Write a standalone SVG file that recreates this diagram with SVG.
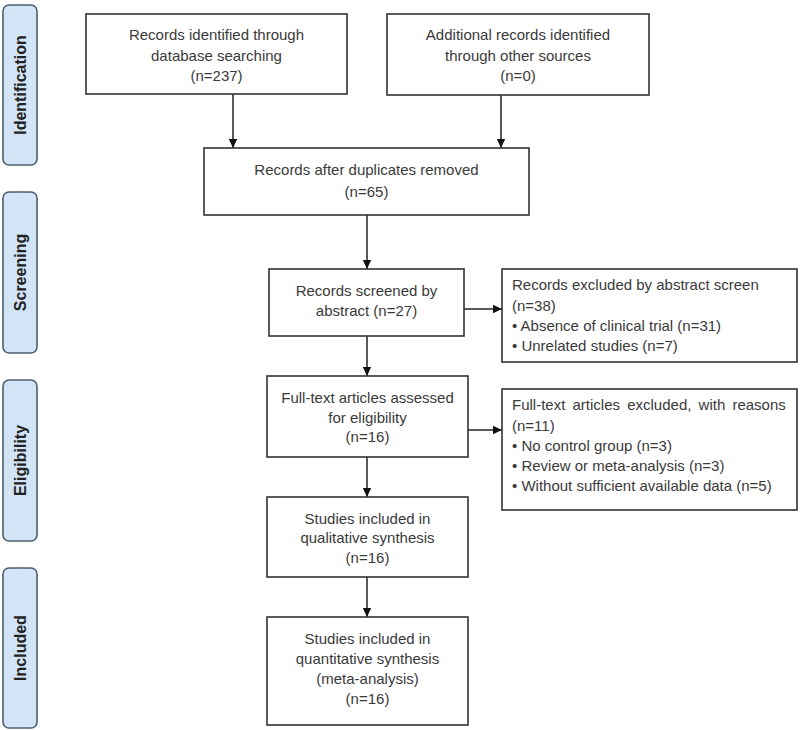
<svg xmlns="http://www.w3.org/2000/svg" width="800" height="730" viewBox="0 0 800 730">
<defs>
<style>
.box{fill:#fff;stroke:#333;stroke-width:1.6}
.side{fill:#d2e5f6;stroke:#4e5f6e;stroke-width:1.6}
.t{font-family:"Liberation Sans",Arial,sans-serif;font-size:15px;fill:#3a3a3a}
.c{text-anchor:middle}
.s{font-family:"Liberation Sans",Arial,sans-serif;font-size:16px;font-weight:bold;fill:#222;text-anchor:middle}
.ln{stroke:#222;stroke-width:1.5;fill:none;marker-end:url(#ah)}
</style>
<marker id="ah" markerUnits="userSpaceOnUse" markerWidth="10" markerHeight="10" refX="9" refY="5" orient="auto">
<path d="M0,0.8 L9,5 L0,9.2 Z" fill="#111"/>
</marker>
</defs>
<rect width="800" height="730" fill="#fff"/>

<g id="phase-identification"><rect class="side" x="3" y="5" width="34" height="160" rx="6"/><text class="s" transform="translate(26,85) rotate(-90)">Identification</text></g>
<g id="phase-screening"><rect class="side" x="3" y="192" width="34" height="161" rx="6"/><text class="s" transform="translate(26,272.5) rotate(-90)">Screening</text></g>
<g id="phase-eligibility"><rect class="side" x="3" y="380" width="34" height="161" rx="6"/><text class="s" transform="translate(26,460.5) rotate(-90)">Eligibility</text></g>
<g id="phase-included"><rect class="side" x="3" y="568" width="34" height="160" rx="6"/><text class="s" transform="translate(26,648) rotate(-90)">Included</text></g>

<g id="connectors">
<line class="ln" x1="233" y1="94" x2="233" y2="148"/>
<line class="ln" x1="501" y1="95" x2="501" y2="148"/>
<line class="ln" x1="367" y1="215" x2="367" y2="269"/>
<line class="ln" x1="464" y1="309" x2="502" y2="309"/>
<line class="ln" x1="367" y1="336" x2="367" y2="376"/>
<line class="ln" x1="468" y1="430" x2="502" y2="430"/>
<line class="ln" x1="367" y1="457" x2="367" y2="497"/>
<line class="ln" x1="367" y1="577" x2="367" y2="617"/>
</g>

<g id="n-database"><rect class="box" x="86" y="14" width="261" height="80"/>
<text class="t c" x="216.5" y="40">Records identified through</text>
<text class="t c" x="216.5" y="61">database searching</text>
<text class="t c" x="216.5" y="81">(n=237)</text></g>

<g id="n-other"><rect class="box" x="387" y="14" width="262" height="81"/>
<text class="t c" x="518" y="40">Additional records identified</text>
<text class="t c" x="518" y="61">through other sources</text>
<text class="t c" x="518" y="81">(n=0)</text></g>

<g id="n-dedup"><rect class="box" x="204" y="148" width="325" height="67"/>
<text class="t c" x="366.5" y="175">Records after duplicates removed</text>
<text class="t c" x="366.5" y="197">(n=65)</text></g>

<g id="n-screened"><rect class="box" x="269" y="269" width="195" height="67"/>
<text class="t c" x="366.5" y="296">Records screened by</text>
<text class="t c" x="366.5" y="316">abstract (n=27)</text></g>

<g id="n-excluded-abstract"><rect class="box" x="502" y="269" width="295" height="93"/>
<text class="t" x="512" y="290">Records excluded by abstract screen</text>
<text class="t" x="512" y="311">(n=38)</text>
<text class="t" x="512" y="331">• Absence of clinical trial (n=31)</text>
<text class="t" x="512" y="351">• Unrelated studies (n=7)</text></g>

<g id="n-fulltext"><rect class="box" x="267" y="376" width="201" height="81"/>
<text class="t c" x="367.5" y="403">Full-text articles assessed</text>
<text class="t c" x="367.5" y="423">for eligibility</text>
<text class="t c" x="367.5" y="442">(n=16)</text></g>

<g id="n-excluded-fulltext"><rect class="box" x="502" y="389" width="295" height="121"/>
<text class="t" x="512" y="410" word-spacing="3">Full-text articles excluded, with reasons</text>
<text class="t" x="512" y="431">(n=11)</text>
<text class="t" x="512" y="451">• No control group (n=3)</text>
<text class="t" x="512" y="471">• Review or meta-analysis (n=3)</text>
<text class="t" x="512" y="491">• Without sufficient available data (n=5)</text></g>

<g id="n-qualitative"><rect class="box" x="267" y="497" width="201" height="80"/>
<text class="t c" x="367.5" y="524">Studies included in</text>
<text class="t c" x="367.5" y="543">qualitative synthesis</text>
<text class="t c" x="367.5" y="563">(n=16)</text></g>

<g id="n-quantitative"><rect class="box" x="267" y="617" width="201" height="108"/>
<text class="t c" x="367.5" y="644">Studies included in</text>
<text class="t c" x="367.5" y="664">quantitative synthesis</text>
<text class="t c" x="367.5" y="684">(meta-analysis)</text>
<text class="t c" x="367.5" y="704">(n=16)</text></g>
</svg>
